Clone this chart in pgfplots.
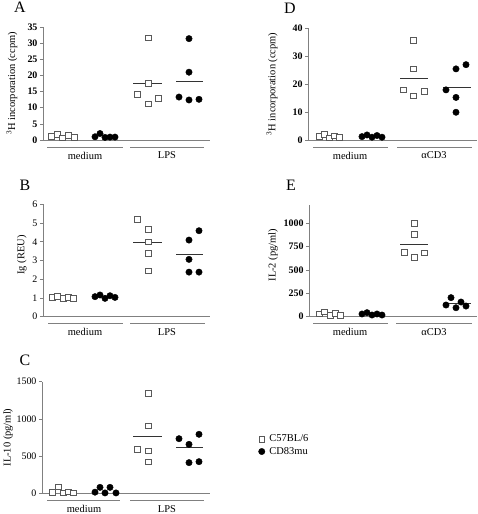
\documentclass[border=0pt]{standalone}
\usepackage{pgfplots}
\pgfplotsset{compat=1.18}
\usepackage{fontspec}
\setmainfont{Liberation Serif}
\definecolor{axgray}{gray}{0.5}
\definecolor{sqgray}{gray}{0.35}
\pgfplotsset{
  panel/.style={
    scale only axis, clip=false,
    axis x line*=bottom, axis y line*=left,
    axis line style={axgray, line width=0.6bp, -},
    xtick=\empty, ymin=0,
    tick align=outside, ytick pos=left,
    major tick length=3bp,
    every tick/.style={axgray, line width=0.6bp},
    scaled y ticks=false,
    /pgf/number format/assume math mode=true,
    /pgf/number format/1000 sep={},
    yticklabel style={font=\fontsize{10}{11}\selectfont, xshift=1bp},
    ylabel style={font=\fontsize{10.5}{11}\selectfont, anchor=center},
  },
  boldticks/.style={yticklabel style={font=\bfseries\fontsize{10}{11}\selectfont}},
  sq/.style={only marks, mark=square*, mark size=2.8bp, mark options={draw=sqgray, fill=white, line width=0.6bp}},
  ci/.style={only marks, mark=*, mark size=3.2bp, mark options={draw=black, fill=black}},
  mean/.style={black!80, line width=0.6bp, forget plot},
}
\newcommand{\grp}[4]{% xa, xb, xc, label
  \draw[axgray, line width=0.6bp] ([yshift=-7bp]axis cs:#1,0) -- ([yshift=-7bp]axis cs:#2,0);
  \node[font=\fontsize{10.5}{11}\selectfont] at ([yshift=-15.5bp]axis cs:#3,0) {#4};}
\begin{document}
\begin{tikzpicture}
\path[use as bounding box] (0bp,0bp) rectangle (478bp,514bp);

% Panel A
\begin{axis}[panel, boldticks, at={(43bp,374bp)}, anchor=south west,
  width=167bp, height=113bp, xmin=43, xmax=210, ymax=35,
  ytick={0,5,...,35},
  ylabel={\textsuperscript{3}H incorporation (ccpm)},
  ylabel style={at={(axis description cs:-0.186,0.5)}}]
\addplot[mean] coordinates {(133,17.5) (162,17.5)};
\addplot[mean] coordinates {(176,18.3) (203,18.3)};
\addplot[sq] coordinates {(51,1.1)(57,1.7)(62,0.7)(68,1.4)(74,0.9)(137,14.2)(148,31.6)(148,17.6)(148,11.2)(158,12.9)};
\addplot[ci] coordinates {(95,1.0)(100,2.0)(105,0.8)(110,0.9)(115,0.9)(179,13.3)(189,31.4)(189,21.0)(189,12.4)(199,12.6)};
\grp{47}{123}{85}{medium}
\grp{130}{204}{167}{LPS}
\end{axis}

% Panel B
\begin{axis}[panel, at={(43bp,197.3bp)}, anchor=south west,
  width=167bp, height=112.4bp, xmin=43, xmax=210, ymax=6,
  ytick={0,1,...,6},
  ylabel={Ig (REU)},
  ylabel style={at={(axis description cs:-0.126,0.55)}}]
\addplot[mean] coordinates {(133,3.95) (162,3.95)};
\addplot[mean] coordinates {(176,3.31) (203,3.31)};
\addplot[sq] coordinates {(52,1.03)(57,1.1)(63,0.98)(68,1.03)(73,0.98)(137,5.2)(148,4.68)(148,4.0)(148,3.38)(148,2.44)};
\addplot[ci] coordinates {(95,1.07)(100,1.16)(105,0.98)(110,1.12)(115,1.03)(189,4.09)(199,4.59)(189,3.06)(189,2.38)(199,2.38)};
\grp{48}{123}{85}{medium}
\grp{130}{205}{167}{LPS}
\end{axis}

% Panel C
\begin{axis}[panel, at={(42bp,20.7bp)}, anchor=south west,
  width=168bp, height=111.6bp, xmin=42, xmax=210, ymax=1500,
  ytick={0,500,1000,1500},
  ylabel={IL-10 (pg/ml)},
  ylabel style={at={(axis description cs:-0.202,0.5)}},
  legend style={at={(axis description cs:1.27,0.43)}, anchor=west, draw=none, fill=none,
    font=\fontsize{10.5}{11}\selectfont, row sep=0bp},
  legend cell align=left]
\addplot[mean] coordinates {(133,761) (162,761)};
\addplot[mean] coordinates {(176,613) (203,613)};
\addplot[sq] coordinates {(52,10)(58,90)(63,5)(68,20)(73,5)(137,591)(148,1343)(148,905)(148,569)(148,421)};
\addlegendentry{\hspace{2.5bp}C57BL/6}
\addplot[ci] coordinates {(95,15)(100,80)(105,5)(110,80)(116,5)(179,734)(189,658)(199,793)(189,412)(199,425)};
\addlegendentry{\hspace{2.5bp}CD83mu}
\grp{47}{120}{84}{medium}
\grp{130}{204}{167}{LPS}
\end{axis}

% Panel D
\begin{axis}[panel, boldticks, at={(308bp,374bp)}, anchor=south west,
  width=169bp, height=112bp, xmin=308, xmax=477, ymax=40,
  ytick={0,10,...,40},
  ylabel={\textsuperscript{3}H incorporation (ccpm)},
  ylabel style={at={(axis description cs:-0.213,0.5)}}]
\addplot[mean] coordinates {(400,22.1) (428,22.1)};
\addplot[mean] coordinates {(443,18.9) (471,18.9)};
\addplot[sq] coordinates {(319,1.4)(324,2.1)(329,0.8)(334,1.5)(339,1.0)(403,17.9)(413,35.5)(413,25.4)(413,15.8)(424,17.3)};
\addplot[ci] coordinates {(362,1.2)(367,1.8)(372,1.0)(377,1.6)(382,1.0)(446,17.9)(456,25.4)(456,15.2)(456,9.9)(466,26.9)};
\grp{313}{388}{350}{medium}
\grp{397}{472}{434}{αCD3}
\end{axis}

% Panel E
\begin{axis}[panel, boldticks, at={(309bp,197.3bp)}, anchor=south west,
  width=168bp, height=112bp, xmin=309, xmax=477, ymax=1200,
  ytick={0,250,...,1000},
  ylabel={IL-2 (pg/ml)},
  ylabel style={at={(axis description cs:-0.214,0.55)}}]
\addplot[mean] coordinates {(400,775) (428,775)};
\addplot[mean] coordinates {(443,139) (471,139)};
\addplot[sq] coordinates {(319,29)(324,54)(330,18)(335,36)(340,18)(404,693)(414,1000)(414,886)(414,636)(424,686)};
\addplot[ci] coordinates {(362,29)(367,43)(372,18)(377,29)(382,18)(446,125)(451,204)(456,96)(461,157)(466,114)};
\grp{313}{388}{350}{medium}
\grp{396}{472}{434}{αCD3}
\end{axis}

\node[font=\fontsize{16}{17}\selectfont] at (20bp,507bp) {A};
\node[font=\fontsize{16}{17}\selectfont] at (25bp,329bp) {B};
\node[font=\fontsize{16}{17}\selectfont] at (25bp,154bp) {C};
\node[font=\fontsize{16}{17}\selectfont] at (290bp,506bp) {D};
\node[font=\fontsize{16}{17}\selectfont] at (291bp,329bp) {E};
\end{tikzpicture}
\end{document}
